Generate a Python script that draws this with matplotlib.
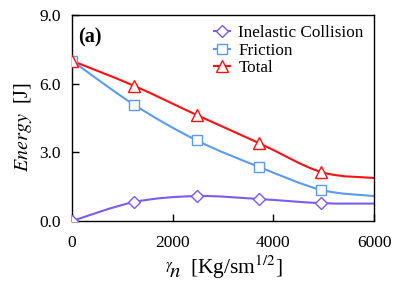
import numpy as np
import matplotlib
matplotlib.use("Agg")
import matplotlib.pyplot as plt
from matplotlib.path import Path
from matplotlib.patches import PathPatch

plt.rcParams['font.family'] = ['Liberation Serif', 'DejaVu Serif']
plt.rcParams['mathtext.fontset'] = 'stix'

# data
gamma = [0, 1240, 2480, 3720, 4950]
inelastic = [0.0, 0.83, 1.09, 0.96, 0.78]
friction = [7.0, 5.07, 3.52, 2.36, 1.36]
total = [7.0, 5.9, 4.63, 3.4, 2.14]
# fitted lines run on to the right edge
gamma_end = 6000
inelastic_end = 0.76
friction_end = 1.09
total_end = 1.88

xticks = [0, 2000, 4000, 6000]
yticks = [0, 3, 6, 9]


def smooth_path(xs, ys, tension=0.5):
    # Excel-like smoothed line: cubic bezier through every point
    pts = np.column_stack([xs, ys]).astype(float)
    verts = [pts[0]]
    codes = [Path.MOVETO]
    n = len(pts)
    for i in range(n - 1):
        p0 = pts[i - 1] if i > 0 else pts[i]
        p1 = pts[i]
        p2 = pts[i + 1]
        p3 = pts[i + 2] if i + 2 < n else pts[i + 1]
        c1 = p1 + (p2 - p0) * tension / 3
        c2 = p2 - (p3 - p1) * tension / 3
        verts += [c1, c2, p2]
        codes += [Path.CURVE4] * 3
    return Path(verts, codes)


W, H = 407, 288
fig = plt.figure(figsize=(W / 100, H / 100), dpi=100)
ax = fig.add_axes([72 / W, 1 - 221 / H, 302 / W, 206 / H])

series = [
    ("Inelastic Collision", inelastic, inelastic_end, "#7a5cf0", "D", 6),
    ("Friction", friction, friction_end, "#5b9bf5", "s", 7),
    ("Total", total, total_end, "#ff1010", "^", 8),
]

for name, vals, end, col, mk, ms in series:
    # the curve is drawn in data coordinates via the axes transform
    path = smooth_path(list(gamma) + [gamma_end], list(vals) + [end])
    ax.add_patch(PathPatch(path, facecolor="none", edgecolor=col, lw=1.5, zorder=2))
    ax.plot(gamma, vals, linestyle="none", marker=mk, ms=ms, mfc="white",
            mec=col, mew=1.0, zorder=3)
    ax.plot([], [], color=col, lw=1.5, marker=mk, ms=ms, mfc="white",
            mec=col, mew=1.0, label=name)

ax.set_xlim(0, 6000)
ax.set_ylim(0, 9)
ax.set_xticks(xticks)
ax.set_yticks(yticks)
ax.set_yticklabels(["%.1f" % v for v in yticks])
ax.tick_params(direction="in", labelsize=12.5, length=5, width=1, pad=8)
ax.tick_params(axis="x", pad=10)
for s in ax.spines.values():
    s.set_linewidth(1.0)

ax.set_ylabel(r"$Energy$  [J]", fontsize=14.5)
ax.yaxis.set_label_coords(-0.125, 0.455)

# x label: raised gamma with n below, then the unit
fig.text(165 / W, 1 - 277 / H, r"$^{\gamma}\!n$", fontsize=15,
         va="baseline", ha="left")
fig.text(190 / W, 1 - 274 / H, r"[Kg/sm$^{1/2}$]", fontsize=15.5,
         va="baseline", ha="left")

ax.text(0.02, 0.94, "(a)", transform=ax.transAxes, fontsize=14.5,
        fontweight="bold", va="top", ha="left")

ax.legend(loc="upper right", frameon=False, fontsize=12.3, handlelength=0.9,
          handletextpad=0.5, labelspacing=0.08, borderaxespad=0.2)

fig.savefig("out.png", dpi=100)
